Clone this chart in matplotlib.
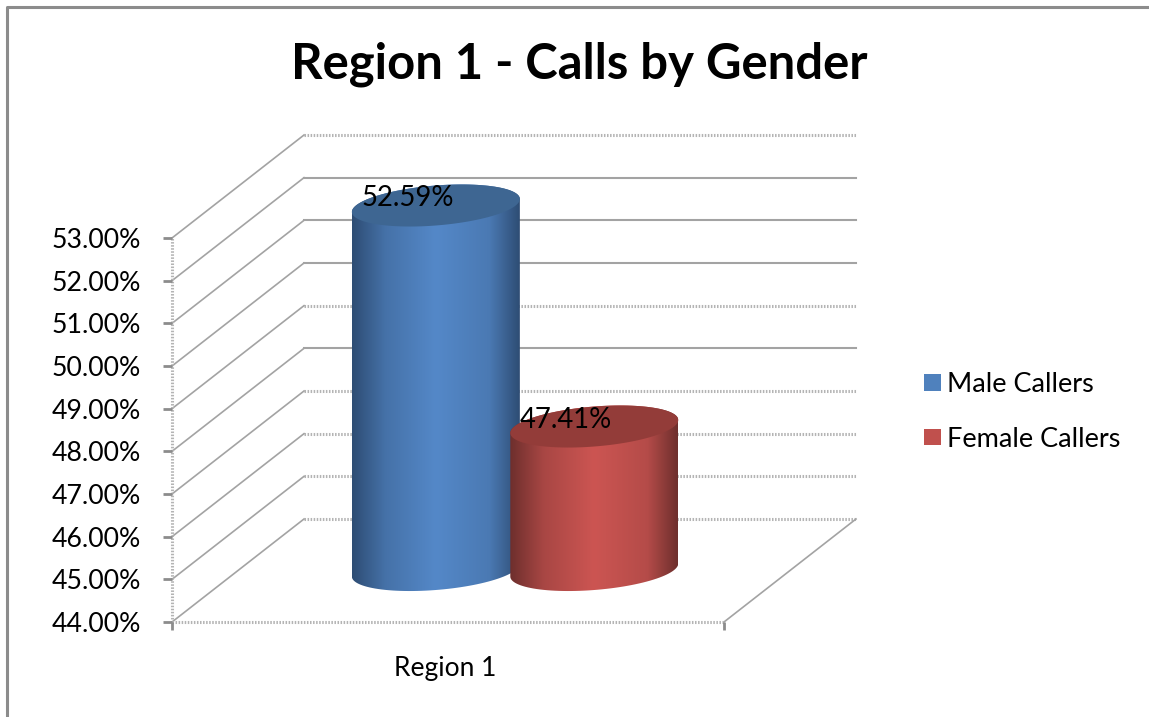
import numpy as np
import matplotlib
matplotlib.use("Agg")
import matplotlib.pyplot as plt
from matplotlib.colors import LinearSegmentedColormap
from matplotlib.lines import Line2D
from matplotlib.patches import Patch, Polygon
from matplotlib.transforms import ScaledTranslation

# Data
title = "Region 1 - Calls by Gender"
category = "Region 1"
series = ["Male Callers", "Female Callers"]
values = [52.59, 47.41]
y_ticks = [44, 45, 46, 47, 48, 49, 50, 51, 52, 53]
dotted_levels = [44, 45, 46, 47, 49, 53]

# Colours: edge, centre, top of each cylinder
legend_colors = ["#4f81bd", "#c0504d"]
edge_colors = ["#2e4d74", "#6e2f2d"]
mid_colors = ["#5488c8", "#cc5552"]
top_colors = ["#3e6692", "#933c39"]

GRID = "#a3a3a3"
FONT = "Lato"

W, H = 1149, 717
fig = plt.figure(figsize=(W / 100, H / 100), dpi=100, facecolor="white")
ax = fig.add_axes([172 / W, 1 - 622 / H, 552 / W, 384 / H])
ax.set_xlim(0, 1)
ax.set_ylim(44, 53)

# pixels to data units
XPX = 1 / 552
YPX = 9 / 384
DEPTH_X = 132 * XPX
DEPTH_Y = 103 * YPX

for s in ax.spines.values():
    s.set_visible(False)
ax.patch.set_visible(False)

dot = dict(color="#b4b4b4", lw=2.2, ls=(0, (0.5, 0.5)))
solid = dict(color=GRID, lw=1.5)

# walls and floor
for v in y_ticks:
    style = dot if v in dotted_levels else solid
    ax.plot([DEPTH_X, 1 + DEPTH_X], [v + DEPTH_Y] * 2, clip_on=False, zorder=1, **style)
    ax.plot([0, DEPTH_X], [v, v + DEPTH_Y], color=GRID, lw=1.2, clip_on=False, zorder=1)
ax.plot([1, 1 + DEPTH_X], [44, 44 + DEPTH_Y], color=GRID, lw=1.2, clip_on=False, zorder=1)
ax.plot([0, 1], [44, 44], clip_on=False, zorder=1, **dot)
ax.plot([0, 0], [44, 53], clip_on=False, zorder=1, **dot)

# ticks
ax.set_yticks(y_ticks)
ax.set_yticklabels(["%.2f%%" % v for v in y_ticks], fontsize=19.2, family=FONT, color="black")
for lab in ax.get_yticklabels():
    lab.set_transform(lab.get_transform() + ScaledTranslation(0, -3 / 100, fig.dpi_scale_trans))
ax.set_xticks([0, 1])
ax.set_xticklabels([])
ax.tick_params(axis="y", length=6.5, width=2, color="#8c8c8c", pad=16)
ax.tick_params(axis="x", length=6, width=2, color="#8c8c8c")
ax.text(0.495, 44 - 47 * YPX, category, ha="center", va="center", fontsize=19,
        family=FONT, color="black")

# cylinders
half_w = 84 * XPX
tilt = 6.5 * YPX
minor = 20 * YPX
lift = 50 * YPX
base = 44 + 52 * YPX
centers = [0.478, 0.765]
theta = np.linspace(0, 2 * np.pi, 120)

for i, v in enumerate(values):
    cx = centers[i]
    top = v + lift
    x_e = cx + half_w * np.cos(theta)
    rise = tilt * np.cos(theta) + minor * np.sin(theta)

    # body outline: top half of the top ellipse, lower half of the bottom one
    low = theta[theta <= np.pi]
    body_x = np.r_[cx + half_w * np.cos(low), cx + half_w * np.cos(low[::-1])]
    body_y = np.r_[top + tilt * np.cos(low) + minor * np.sin(low),
                   base + tilt * np.cos(low[::-1]) - minor * np.sin(low[::-1])]
    body = Polygon(np.c_[body_x, body_y], closed=True, fc="none", ec="none",
                   transform=ax.transData, zorder=3 + i)
    ax.add_patch(body)
    cmap = LinearSegmentedColormap.from_list("c", [edge_colors[i], mid_colors[i]])
    grad = np.interp(np.linspace(0, 1, 256), [0, 0.2, 0.5, 0.82, 1], [0, 0.62, 1, 0.75, 0])
    im = ax.imshow(grad.reshape(1, -1), cmap=cmap, vmin=0, vmax=1, aspect="auto",
                   extent=[cx - half_w, cx + half_w, base - 1, top + 1], zorder=3 + i,
                   interpolation="bilinear")
    im.set_clip_path(body)
    im.set_clip_box(fig.bbox)
    ax.fill(x_e, top + rise, color=top_colors[i], lw=0, clip_on=False, zorder=3 + i)
    ax.text(cx - 28 * XPX, top + 7 * YPX, "%.2f%%" % v, ha="center",
            va="center", fontsize=19.8, family=FONT, color="black", zorder=6, clip_on=False)

ax.set_xlim(0, 1)
ax.set_ylim(44, 53)

# legend
handles = [Patch(fc=c, ec="none") for c in legend_colors]
fig.legend(handles, series, loc="center left", bbox_to_anchor=(900 / W, 1 - 412 / H),
           frameon=False, handlelength=0.62, handleheight=0.55, handletextpad=0.22,
           labelspacing=1.1, prop={"family": FONT, "size": 19.5})

fig.text(579 / W, 1 - 64 / H, title, ha="center", va="center", fontsize=35.3,
         fontweight="bold", family=FONT, color="black")

# chart frame, only top and left show
fig.add_artist(Line2D([7 / W, 7 / W, 1], [0, 1 - 6.5 / H, 1 - 6.5 / H],
                      color="#8c8c8c", lw=2.2, transform=fig.transFigure))

fig.savefig("out.png", dpi=100)
